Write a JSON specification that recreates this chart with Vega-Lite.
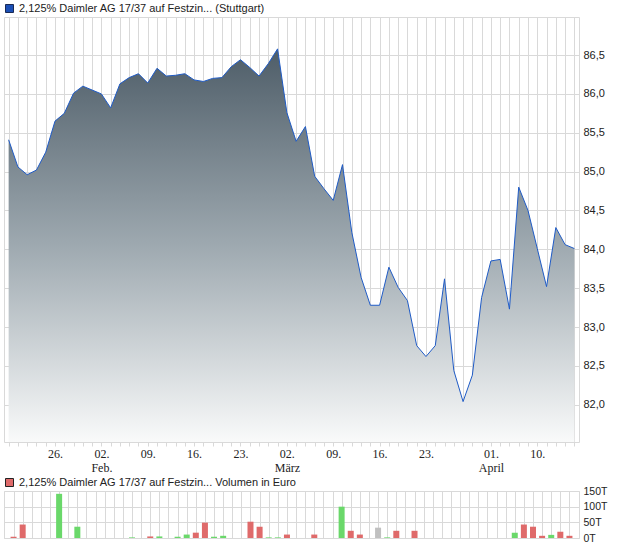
{
  "$schema": "https://vega.github.io/schema/vega-lite/v6.json",
  "padding": {"left": 3, "top": 2, "right": 6, "bottom": 0},
  "spacing": 2,
  "datasets": {
    "prices": [
      {"i": 0, "date": "2026-01-19", "p": 85.41}, {"i": 1, "date": "2026-01-20", "p": 85.06},
      {"i": 2, "date": "2026-01-21", "p": 84.96}, {"i": 3, "date": "2026-01-22", "p": 85.02},
      {"i": 4, "date": "2026-01-23", "p": 85.25}, {"i": 5, "date": "2026-01-26", "p": 85.65},
      {"i": 6, "date": "2026-01-27", "p": 85.75}, {"i": 7, "date": "2026-01-28", "p": 86.01},
      {"i": 8, "date": "2026-01-29", "p": 86.10}, {"i": 9, "date": "2026-01-30", "p": 86.05},
      {"i": 10, "date": "2026-02-02", "p": 86.00}, {"i": 11, "date": "2026-02-03", "p": 85.82},
      {"i": 12, "date": "2026-02-04", "p": 86.13}, {"i": 13, "date": "2026-02-05", "p": 86.21},
      {"i": 14, "date": "2026-02-06", "p": 86.26}, {"i": 15, "date": "2026-02-09", "p": 86.14},
      {"i": 16, "date": "2026-02-10", "p": 86.33}, {"i": 17, "date": "2026-02-11", "p": 86.23},
      {"i": 18, "date": "2026-02-12", "p": 86.24}, {"i": 19, "date": "2026-02-13", "p": 86.26},
      {"i": 20, "date": "2026-02-16", "p": 86.18}, {"i": 21, "date": "2026-02-17", "p": 86.16},
      {"i": 22, "date": "2026-02-18", "p": 86.20}, {"i": 23, "date": "2026-02-19", "p": 86.21},
      {"i": 24, "date": "2026-02-20", "p": 86.35}, {"i": 25, "date": "2026-02-23", "p": 86.44},
      {"i": 26, "date": "2026-02-24", "p": 86.34}, {"i": 27, "date": "2026-02-25", "p": 86.23},
      {"i": 28, "date": "2026-02-26", "p": 86.39}, {"i": 29, "date": "2026-02-27", "p": 86.58},
      {"i": 30, "date": "2026-03-02", "p": 85.76}, {"i": 31, "date": "2026-03-03", "p": 85.39},
      {"i": 32, "date": "2026-03-04", "p": 85.58}, {"i": 33, "date": "2026-03-05", "p": 84.94},
      {"i": 34, "date": "2026-03-06", "p": 84.78}, {"i": 35, "date": "2026-03-09", "p": 84.63},
      {"i": 36, "date": "2026-03-10", "p": 85.09}, {"i": 37, "date": "2026-03-11", "p": 84.22},
      {"i": 38, "date": "2026-03-12", "p": 83.64}, {"i": 39, "date": "2026-03-13", "p": 83.28},
      {"i": 40, "date": "2026-03-16", "p": 83.28}, {"i": 41, "date": "2026-03-17", "p": 83.77},
      {"i": 42, "date": "2026-03-18", "p": 83.51}, {"i": 43, "date": "2026-03-19", "p": 83.34},
      {"i": 44, "date": "2026-03-20", "p": 82.76}, {"i": 45, "date": "2026-03-23", "p": 82.62},
      {"i": 46, "date": "2026-03-24", "p": 82.76}, {"i": 47, "date": "2026-03-25", "p": 83.62},
      {"i": 48, "date": "2026-03-26", "p": 82.44}, {"i": 49, "date": "2026-03-27", "p": 82.04},
      {"i": 50, "date": "2026-03-30", "p": 82.38}, {"i": 51, "date": "2026-03-31", "p": 83.38},
      {"i": 52, "date": "2026-04-01", "p": 83.85}, {"i": 53, "date": "2026-04-02", "p": 83.87},
      {"i": 54, "date": "2026-04-07", "p": 83.23}, {"i": 55, "date": "2026-04-08", "p": 84.80},
      {"i": 56, "date": "2026-04-09", "p": 84.50}, {"i": 57, "date": "2026-04-10", "p": 84.01},
      {"i": 58, "date": "2026-04-13", "p": 83.52}, {"i": 59, "date": "2026-04-14", "p": 84.28},
      {"i": 60, "date": "2026-04-15", "p": 84.06}, {"i": 61, "date": "2026-04-16", "p": 84.01}
    ],
    "volumes": [
      {"i": 0, "v": 4000, "d": "down"}, {"i": 1, "v": 43000, "d": "down"},
      {"i": 5, "v": 141000, "d": "up"}, {"i": 7, "v": 36000, "d": "up"},
      {"i": 13, "v": 2000, "d": "up"}, {"i": 15, "v": 5000, "d": "down"},
      {"i": 16, "v": 5000, "d": "up"}, {"i": 18, "v": 4000, "d": "up"},
      {"i": 19, "v": 11000, "d": "up"}, {"i": 20, "v": 17000, "d": "down"},
      {"i": 21, "v": 49000, "d": "down"}, {"i": 22, "v": 4000, "d": "up"},
      {"i": 23, "v": 7000, "d": "up"}, {"i": 26, "v": 52000, "d": "down"},
      {"i": 27, "v": 36000, "d": "down"}, {"i": 28, "v": 2000, "d": "up"},
      {"i": 29, "v": 2000, "d": "up"}, {"i": 30, "v": 11000, "d": "down"},
      {"i": 33, "v": 11000, "d": "down"}, {"i": 36, "v": 100000, "d": "up"},
      {"i": 37, "v": 23000, "d": "down"}, {"i": 38, "v": 11000, "d": "down"},
      {"i": 40, "v": 33000, "d": "flat"}, {"i": 41, "v": 2000, "d": "up"},
      {"i": 42, "v": 23000, "d": "down"}, {"i": 44, "v": 23000, "d": "down"},
      {"i": 55, "v": 17000, "d": "up"}, {"i": 56, "v": 43000, "d": "down"},
      {"i": 57, "v": 36000, "d": "down"}, {"i": 58, "v": 7000, "d": "down"},
      {"i": 59, "v": 10000, "d": "up"}, {"i": 60, "v": 20000, "d": "down"},
      {"i": 61, "v": 7000, "d": "down"}
    ]
  },
  "vconcat": [
    {
      "width": 575,
      "height": 425,
      "data": {"name": "prices"},
      "encoding": {
        "x": {
          "field": "i", "type": "quantitative",
          "scale": {"domain": [-0.5, 61.5], "nice": false, "zero": false},
          "axis": {
            "title": null,
            "values": [0,1,2,3,4,5,6,7,8,9,10,11,12,13,14,15,16,17,18,19,20,21,22,23,24,25,26,27,28,29,30,31,32,33,34,35,36,37,38,39,40,41,42,43,44,45,46,47,48,49,50,51,52,53,54,55,56,57,58,59,60,61],
            "labelExpr": "datum.value === 5 ? '26.' : datum.value === 10 ? ['02.', 'Feb.'] : datum.value === 15 ? '09.' : datum.value === 20 ? '16.' : datum.value === 25 ? '23.' : datum.value === 30 ? ['02.', 'März'] : datum.value === 35 ? '09.' : datum.value === 40 ? '16.' : datum.value === 45 ? '23.' : datum.value === 52 ? ['01.', 'April'] : datum.value === 57 ? '10.' : ''",
            "labelOverlap": false,
            "labelFlush": false,
            "labelFont": "Liberation Sans Narrow",
            "labelFontSize": 12,
            "labelLineHeight": 14,
            "labelPadding": 2,
            "domain": false,
            "ticks": true,
            "tickSize": 4,
            "tickColor": "#d9d9d9",
            "grid": true
          }
        },
        "y": {
          "field": "p", "type": "quantitative",
          "scale": {"domain": [81.52, 86.99], "nice": false, "zero": false},
          "axis": {
            "orient": "right",
            "title": null,
            "values": [82, 82.5, 83, 83.5, 84, 84.5, 85, 85.5, 86, 86.5],
            "labelExpr": "replace(format(datum.value, '.1f'), '.', ',')",
            "labelFontSize": 11,
            "labelPadding": 4,
            "domain": false,
            "ticks": false,
            "grid": true
          }
        }
      },
      "layer": [
        {
          "mark": {
            "type": "area",
            "clip": true,
            "fill": {
              "gradient": "linear", "x1": 0, "y1": 0, "x2": 0, "y2": 1,
              "stops": [
                {"offset": 0, "color": "#4e5d68"},
                {"offset": 0.5, "color": "#9ea9b0"},
                {"offset": 1, "color": "#f9fafa"}
              ]
            }
          },
          "encoding": {"y2": {"datum": 81.52}}
        },
        {
          "mark": {"type": "line", "clip": true, "color": "#1f5bc6", "strokeWidth": 1}
        },
        {
          "mark": {"type": "square", "opacity": 0},
          "encoding": {
            "fill": {
              "datum": "2,125% Daimler AG 17/37 auf Festzin... (Stuttgart)",
              "scale": {"range": ["#1b4fb5"]},
              "legend": {
                "orient": "none", "legendX": 0, "legendY": -14, "title": null,
                "symbolType": "square", "symbolSize": 64, "symbolOpacity": 1,
                "symbolStrokeColor": "#1a2a55", "symbolStrokeWidth": 1,
                "labelFontSize": 11, "labelColor": "#222", "labelLimit": 500,
                "labelOffset": 4, "padding": 0
              }
            }
          }
        }
      ]
    },
    {
      "width": 575,
      "height": 47,
      "data": {"name": "volumes"},
      "encoding": {
        "x": {
          "field": "i", "type": "quantitative",
          "scale": {"domain": [-0.5, 61.5], "nice": false, "zero": false},
          "axis": {
            "title": null,
            "values": [0,1,2,3,4,5,6,7,8,9,10,11,12,13,14,15,16,17,18,19,20,21,22,23,24,25,26,27,28,29,30,31,32,33,34,35,36,37,38,39,40,41,42,43,44,45,46,47,48,49,50,51,52,53,54,55,56,57,58,59,60,61],
            "labels": false, "ticks": false, "domain": false, "grid": true
          }
        },
        "y": {
          "field": "v", "type": "quantitative",
          "scale": {"domain": [0, 150000], "nice": false},
          "axis": {
            "orient": "right",
            "title": null,
            "values": [0, 50000, 100000, 150000],
            "labelExpr": "(datum.value / 1000) + 'T'",
            "labelFontSize": 10.5,
            "labelPadding": 4,
            "domain": false,
            "ticks": false,
            "grid": true
          }
        }
      },
      "layer": [
        {
          "mark": {"type": "bar", "size": 6},
          "encoding": {
            "color": {
              "field": "d", "type": "nominal",
              "scale": {"domain": ["up", "down", "flat"], "range": ["#6ad86a", "#df6a6a", "#c0c0c0"]},
              "legend": null
            }
          }
        },
        {
          "mark": {"type": "square", "opacity": 0},
          "encoding": {
            "fill": {
              "datum": "2,125% Daimler AG 17/37 auf Festzin... Volumen in Euro",
              "scale": {"range": ["#df6a6a"]},
              "legend": {
                "orient": "none", "legendX": 0, "legendY": -14, "title": null,
                "symbolType": "square", "symbolSize": 64, "symbolOpacity": 1,
                "symbolStrokeColor": "#222", "symbolStrokeWidth": 1,
                "labelFontSize": 11, "labelColor": "#222", "labelLimit": 500,
                "labelOffset": 4, "padding": 0
              }
            }
          }
        }
      ]
    }
  ],
  "resolve": {
    "scale": {"fill": "independent", "color": "independent", "x": "independent", "y": "independent"},
    "legend": {"fill": "independent", "color": "independent"}
  },
  "config": {
    "view": {"stroke": "#d9d9d9"},
    "axis": {
      "gridColor": "#d9d9d9",
      "gridWidth": 1,
      "labelFont": "Liberation Sans",
      "labelColor": "#222"
    },
    "legend": {"labelFont": "Liberation Sans"}
  }
}
